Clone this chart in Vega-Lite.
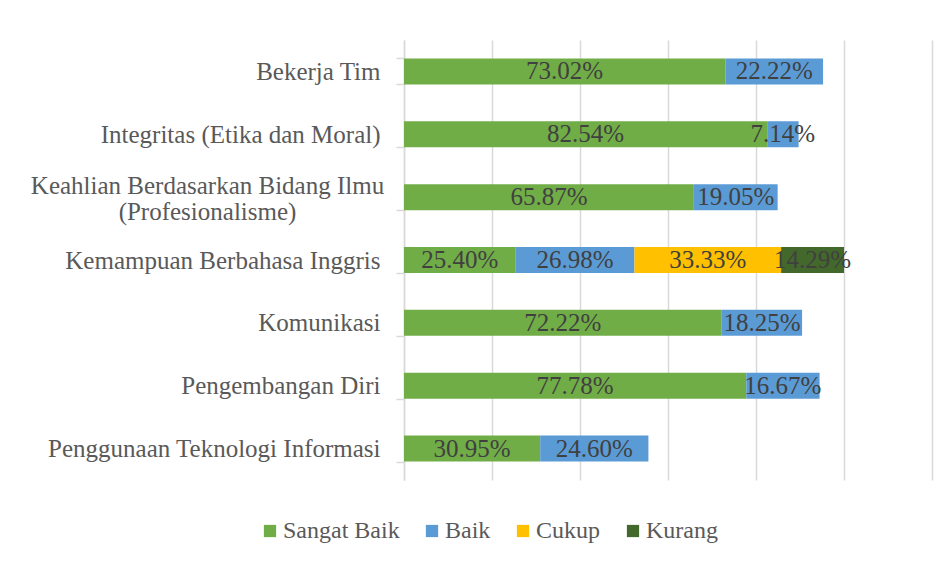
{
  "$schema": "https://vega.github.io/schema/vega-lite/v6.json",
  "width": 528,
  "height": 440,
  "autosize": {"type": "none"},
  "padding": {"left": 404, "top": 40, "right": 11, "bottom": 83},
  "background": "white",
  "config": {"font": "Liberation Serif", "view": {"stroke": null}},
  "data": {
    "values": [
      {"aspek": "Bekerja Tim", "kategori": "Sangat Baik", "nilai": 0.7302},
      {"aspek": "Bekerja Tim", "kategori": "Baik", "nilai": 0.2222},
      {"aspek": "Integritas (Etika dan Moral)", "kategori": "Sangat Baik", "nilai": 0.8254},
      {"aspek": "Integritas (Etika dan Moral)", "kategori": "Baik", "nilai": 0.0714},
      {"aspek": "Keahlian Berdasarkan Bidang Ilmu (Profesionalisme)", "kategori": "Sangat Baik", "nilai": 0.6587},
      {"aspek": "Keahlian Berdasarkan Bidang Ilmu (Profesionalisme)", "kategori": "Baik", "nilai": 0.1905},
      {"aspek": "Kemampuan Berbahasa Inggris", "kategori": "Sangat Baik", "nilai": 0.2540},
      {"aspek": "Kemampuan Berbahasa Inggris", "kategori": "Baik", "nilai": 0.2698},
      {"aspek": "Kemampuan Berbahasa Inggris", "kategori": "Cukup", "nilai": 0.3333},
      {"aspek": "Kemampuan Berbahasa Inggris", "kategori": "Kurang", "nilai": 0.1429},
      {"aspek": "Komunikasi", "kategori": "Sangat Baik", "nilai": 0.7222},
      {"aspek": "Komunikasi", "kategori": "Baik", "nilai": 0.1825},
      {"aspek": "Pengembangan Diri", "kategori": "Sangat Baik", "nilai": 0.7778},
      {"aspek": "Pengembangan Diri", "kategori": "Baik", "nilai": 0.1667},
      {"aspek": "Penggunaan Teknologi Informasi", "kategori": "Sangat Baik", "nilai": 0.3095},
      {"aspek": "Penggunaan Teknologi Informasi", "kategori": "Baik", "nilai": 0.2460}
    ]
  },
  "transform": [
    {"stack": "nilai", "groupby": ["aspek"], "as": ["v0", "v1"]},
    {"calculate": "(datum.v0 + datum.v1) / 2", "as": "tengah"}
  ],
  "encoding": {
    "y": {
      "field": "aspek",
      "type": "nominal",
      "sort": null,
      "title": null,
      "scale": {"paddingInner": 0.586, "paddingOuter": 0.293},
      "axis": {
        "domainColor": "#D9D9D9",
        "domainWidth": 1.5,
        "ticks": true,
        "tickBand": "extent",
        "tickColor": "#D9D9D9",
        "tickWidth": 1.5,
        "tickSize": 8,
        "grid": false,
        "labelFont": "Liberation Serif",
        "labelFontSize": 25,
        "labelColor": "#595959",
        "labelLimit": 420,
        "labelLineHeight": 26,
        "labelAlign": {"condition": {"test": "datum.value == 'Keahlian Berdasarkan Bidang Ilmu (Profesionalisme)'", "value": "center"}, "value": "right"},
        "labelPadding": {"condition": {"test": "datum.value == 'Keahlian Berdasarkan Bidang Ilmu (Profesionalisme)'", "value": 189}, "value": 16},
        "labelOffset": {"condition": {"test": "datum.value == 'Keahlian Berdasarkan Bidang Ilmu (Profesionalisme)'", "value": -12}, "value": 0},
        "labelExpr": "datum.value == 'Keahlian Berdasarkan Bidang Ilmu (Profesionalisme)' ? ['Keahlian Berdasarkan Bidang Ilmu', '(Profesionalisme)'] : datum.label"
      }
    }
  },
  "layer": [
    {
      "mark": {"type": "bar"},
      "encoding": {
        "x": {
          "field": "v0",
          "type": "quantitative",
          "scale": {"domain": [0, 1.2], "nice": false},
          "title": null,
          "axis": {
            "values": [0, 0.2, 0.4, 0.6, 0.8, 1.0, 1.2],
            "labels": false,
            "ticks": false,
            "domain": false,
            "grid": true,
            "gridColor": "#D9D9D9",
            "gridWidth": 1.5
          }
        },
        "x2": {"field": "v1"},
        "color": {
          "field": "kategori",
          "type": "nominal",
          "scale": {
            "domain": ["Sangat Baik", "Baik", "Cukup", "Kurang"],
            "range": ["#70AD47", "#5B9BD5", "#FFC000", "#43682B"]
          },
          "legend": {
            "orient": "none",
            "legendX": -146,
            "legendY": 479,
            "padding": 0,
            "direction": "horizontal",
            "title": null,
            "symbolType": "square",
            "symbolSize": 150,
            "symbolStrokeWidth": 0,
            "labelFont": "Liberation Serif",
            "labelFontSize": 24,
            "labelColor": "#595959",
            "labelOffset": 1,
            "columnPadding": 20,
            "labelLimit": 300
          }
        }
      }
    },
    {
      "mark": {"type": "text", "font": "Liberation Serif", "fontSize": 25, "color": "#404040", "baseline": "middle", "align": "center"},
      "encoding": {
        "x": {"field": "tengah", "type": "quantitative"},
        "text": {"field": "nilai", "type": "quantitative", "format": ".2%"}
      }
    }
  ]
}
